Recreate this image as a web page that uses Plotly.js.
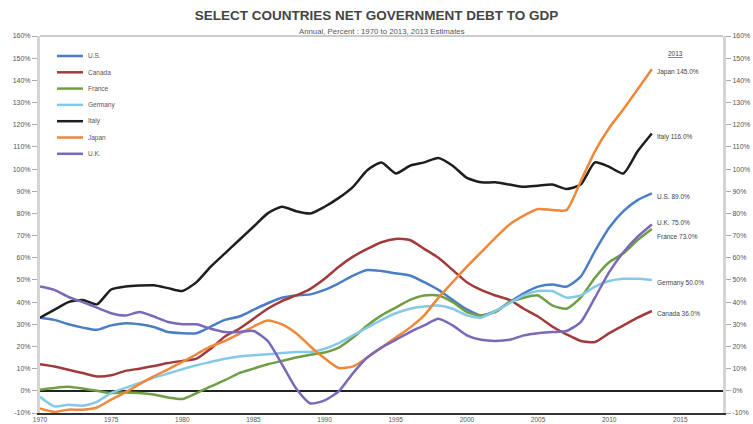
<!DOCTYPE html>
<html>
<head>
<meta charset="utf-8">
<script src="https://cdn.plot.ly/plotly-3.0.1.min.js"></script>
<style>html,body{margin:0;padding:0;background:#fff;}#chart{width:753px;height:424px;}</style>
</head>
<body>
<div id="chart"></div>
<script>
const years = [1970,1971,1972,1973,1974,1975,1976,1977,1978,1979,1980,1981,1982,1983,1984,1985,1986,1987,1988,1989,1990,1991,1992,1993,1994,1995,1996,1997,1998,1999,2000,2001,2002,2003,2004,2005,2006,2007,2008,2009,2010,2011,2012,2013];

const us      = [33,32,30,28.5,27.5,29.5,30.5,30,28.8,26.5,26,26,29,32,33.5,36.5,39.5,42,43,43.5,45.5,48.5,52,54.5,54,53,52,49,45.5,41,36.7,34,36,40,44,47,48,47,51.5,63,73.5,81,86,89];
const canada  = [12,11,9.5,8,6.5,7,9,10,11.2,12.5,13.5,14.5,19,24.5,28,32.5,37,40.5,43,46,50.5,56,60.5,64,67,68.5,68,64,60,54.5,49,45.5,43,41,37,33.5,29,25.5,22.5,22,26,29.5,33,36];
const france  = [0.5,1.3,1.8,1,0,-1,-0.7,-1,-1.7,-3,-3.7,-1,2,4.8,8,10,12,13.5,15,16.3,17.3,19.5,24,29.5,34,37.5,41,43,43,40,35.5,34,35.5,40,42,43,38.5,37,42,51,58,62,68,73];
const germany = [-2.7,-7,-6.3,-6.7,-5,-1,1.3,3.6,6,7.8,9.7,11.5,13,14.5,15.5,16,16.5,17,17.5,17.5,19,21.5,25,28.5,32,35,37,38,38.5,37,34,33,36,39.5,43,45,45,42,43,47,49.5,50.5,50.5,50];
const italy   = [33,36.5,40,41,39,45.7,47,47.5,47.6,46.3,45,49,56,62,68,74,80,83,81,80,83,87,92,99.5,103,98,101.5,103,105,101.5,96,94,94,93,92,92.5,93,91,93,103,101,98,108,116];
const japan   = [-8,-9.5,-8.5,-8.5,-7.5,-4,-0.7,3,6.5,9.7,13,16.5,20,22.5,25.7,29,31.7,30,26,20,14.7,10.3,11,15,19.5,24,28.5,34,42,49,56,62.5,69,75,79,82,81.5,81.5,94.5,108,118.5,127,136,145];
const uk      = [47,45.5,42.3,40,37.5,35,34,35.5,33.5,31,30,30,28,26.5,26.5,27,22.5,12,1,-5.7,-4.3,-0.2,8,15,19.5,23,26.5,29.5,32.5,29.5,25,23,22.5,23,25,26,26.5,27,31,42,53.5,62.5,69.5,75];

const seriesNames = ["U.S.","Canada","France","Germany","Italy","Japan","U.K."];
const seriesData = [us, canada, france, germany, italy, japan, uk];
const seriesColors = ["#4a7ec4","#a23a3c","#6f9e45","#86c9e6","#1e1e1e","#f0883a","#7a68b8"];
const labelShift = [-3,-3,-8,-3,-3,-3,2];

const yTicks = [-10,0,10,20,30,40,50,60,70,80,90,100,110,120,130,140,150,160];
const xTicks = [1970,1975,1980,1985,1990,1995,2000,2005,2010,2015];

const FONT = 'Liberation Sans, Arial, sans-serif';

const traces = seriesNames.map((n,i)=>({
  type:'scatter', mode:'lines', name:n, x:years, y:seriesData[i], showlegend:false,
  line:{color:seriesColors[i], width:2.5, shape:'spline', smoothing:0.6}
}));
traces.push({type:'scatter', mode:'lines', x:years, y:japan, yaxis:'y2', showlegend:false, hoverinfo:'skip', line:{color:'rgba(0,0,0,0)', width:0}});

// plot area geometry (px) for the hand-laid legend
const M = {l:40, r:30, t:36, b:11};
const PW = 753 - M.l - M.r, PH = 424 - M.t - M.b;
const px2x = p => (p - M.l) / PW;
const py2y = p => (424 - M.b - p) / PH;

const last = years[years.length-1];
const annotations = seriesNames.map((n,i)=>({
  x:last, y:seriesData[i][seriesData[i].length-1], xref:'x', yref:'y',
  text:n+' '+seriesData[i][seriesData[i].length-1].toFixed(1)+'%',
  showarrow:false, xanchor:'left', yanchor:'middle', xshift:3, yshift:labelShift[i],
  font:{family:FONT, size:6.5, color:'#444'}
}));
annotations.push({x:last, y:150, xref:'x', yref:'y', text:'<u>'+last+'</u>', showarrow:false, xanchor:'left', xshift:14, yshift:5,
  font:{family:FONT, size:6.5, color:'#444'}});
annotations.push({xref:'paper', yref:'paper', x:0.5, y:py2y(31), xanchor:'center', yanchor:'middle', showarrow:false,
  text:'Annual, Percent : 1970 to 2013, 2013 Estimates', font:{family:FONT, size:7.8, color:'#555'}});

const shapes = [{type:'line', xref:'paper', yref:'paper', x0:0, x1:1, y0:1, y1:1, line:{color:'#bbb', width:1.5}}];
seriesNames.forEach((n,i)=>{
  const py = 56 + i*16.3;
  shapes.push({type:'line', xref:'paper', yref:'paper', x0:px2x(57), x1:px2x(83), y0:py2y(py), y1:py2y(py),
    line:{color:seriesColors[i], width:2.5}});
  annotations.push({xref:'paper', yref:'paper', x:px2x(86), y:py2y(py), xanchor:'left', yanchor:'middle', showarrow:false,
    text:n, font:{family:FONT, size:6.5, color:'#555'}});
});

const axisFont = {family:FONT, size:7, color:'#555'};

const layout = {
  width:753, height:424,
  margin:M,
  paper_bgcolor:'#fff', plot_bgcolor:'#fff',
  showlegend:false,
  title:{
    text:'<b>SELECT COUNTRIES NET GOVERNMENT DEBT TO GDP</b>',
    x:0.5, xanchor:'center', y:1-15/424, yanchor:'middle', yref:'container',
    font:{family:FONT, size:13.5, color:'#444'}
  },
  xaxis:{range:[1970,2018], tickvals:xTicks, ticktext:xTicks.map(String), showgrid:false, zeroline:false,
    showline:true, linecolor:'#333', linewidth:1.5, ticks:'', tickfont:{family:FONT, size:6.5, color:'#555'}},
  yaxis:{range:[-10,160], tickvals:yTicks, ticktext:yTicks.map(v=>v+'%'), showgrid:false,
    zeroline:true, zerolinecolor:'#222', zerolinewidth:1.5,
    showline:true, linecolor:'#d4d4d4', linewidth:3, ticks:'outside', ticklen:5, tickcolor:'#aaa', tickfont:axisFont},
  yaxis2:{range:[-10,160], overlaying:'y', side:'right', anchor:'x', tickvals:yTicks, ticktext:yTicks.map(v=>v+'%'), showgrid:false,
    zeroline:false, showline:true, linecolor:'#d4d4d4', linewidth:3, ticks:'outside', ticklen:5, tickcolor:'#aaa', tickfont:axisFont},
  shapes:shapes,
  annotations:annotations
};

Plotly.newPlot('chart', traces, layout, {displayModeBar:false, staticPlot:true});
</script>
</body>
</html>
